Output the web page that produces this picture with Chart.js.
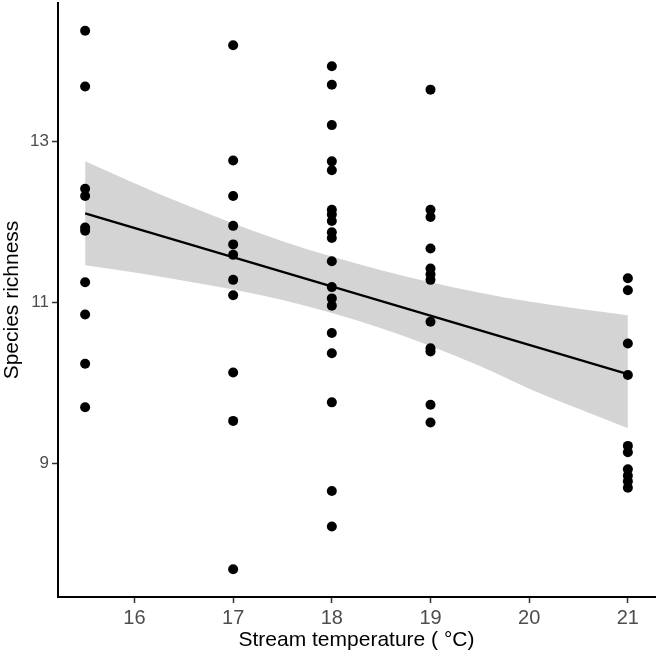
<!DOCTYPE html>
<html>
<head>
<meta charset="utf-8">
<script src="https://cdn.jsdelivr.net/npm/chart.js@4"></script>
<style>
  html, body { margin: 0; padding: 0; background: #ffffff; }
  #wrap { width: 661px; height: 656px; }
</style>
</head>
<body>
<div id="wrap"><canvas id="richnessChart" width="661" height="656"></canvas></div>
<script>
// species richness per site, grouped by stream temperature
const temp15_5 = [14.37, 13.68, 12.41, 12.32, 11.93, 11.89, 11.25, 10.85, 10.24, 9.70];
const temp17 = [14.19, 12.76, 12.32, 11.95, 11.72, 11.59, 11.28, 11.09, 10.13, 9.53, 7.69];
const temp18 = [13.93, 13.70, 13.20, 12.75, 12.64, 12.15, 12.09, 12.01, 11.87, 11.80, 11.51, 11.19, 11.05, 10.96, 10.62, 10.37, 9.76, 8.66, 8.22];
const temp19 = [13.64, 12.15, 12.06, 11.67, 11.42, 11.35, 11.28, 10.76, 10.43, 10.39, 9.73, 9.51];
const temp21 = [11.30, 11.15, 10.49, 10.10, 9.22, 9.14, 8.93, 8.85, 8.78, 8.70];

const temperatures = [15.5, 17, 18, 19, 21];
const richnessByTemp = [temp15_5, temp17, temp18, temp19, temp21];

// fitted line and its confidence band
const fitX = [15.5, 21];
const fitY = [12.105, 10.11];
const bandX = [15.5, 16, 16.5, 17, 17.5, 18, 18.5, 19, 19.5, 20, 20.5, 21];
const bandUpper = [12.75, 12.48, 12.22, 11.98, 11.76, 11.57, 11.40, 11.25, 11.12, 11.01, 10.92, 10.84];
const bandLower = [11.46, 11.37, 11.27, 11.16, 11.03, 10.87, 10.68, 10.46, 10.21, 9.93, 9.68, 9.44];

const xTicks = [16, 17, 18, 19, 20, 21];
const yTicks = [9, 11, 13];

const points = [];
temperatures.forEach((t, i) => {
    richnessByTemp[i].forEach(v => points.push({x: t, y: v}));
});

const toXY = (xs, ys) => xs.map((x, i) => ({x: x, y: ys[i]}));

const fontFamily = "'Liberation Sans', Arial, Helvetica, sans-serif";

const ctx = document.getElementById('richnessChart').getContext('2d');
new Chart(ctx, {
    type: 'scatter',
    data: {
        datasets: [{
            label: 'sites',
            data: points,
            backgroundColor: '#000000',
            borderWidth: 0,
            pointRadius: 5,
            order: 0
        }, {
            type: 'line',
            label: 'fit',
            data: toXY(fitX, fitY),
            borderColor: '#000000',
            borderWidth: 2.2,
            pointRadius: 0,
            fill: false,
            order: 1
        }, {
            type: 'line',
            label: 'lower',
            data: toXY(bandX, bandLower),
            borderWidth: 0,
            borderColor: 'rgba(0,0,0,0)',
            pointRadius: 0,
            cubicInterpolationMode: 'monotone',
            fill: false,
            order: 3
        }, {
            type: 'line',
            label: 'upper',
            data: toXY(bandX, bandUpper),
            borderWidth: 0,
            borderColor: 'rgba(0,0,0,0)',
            backgroundColor: '#d4d4d4',
            pointRadius: 0,
            cubicInterpolationMode: 'monotone',
            fill: '-1',
            order: 2
        }]
    },
    options: {
        responsive: false,
        animation: false,
        layout: { autoPadding: false, padding: { top: 3, right: 6, left: 0, bottom: 0 } },
        plugins: {
            legend: { display: false },
            tooltip: { enabled: false }
        },
        scales: {
            x: {
                type: 'linear',
                min: 15.225,
                max: 21.275,
                afterBuildTicks: scale => { scale.ticks = xTicks.map(v => ({value: v})); },
                afterFit: scale => { scale.height = 59; },
                ticks: {
                    color: '#4d4d4d',
                    padding: 3,
                    font: { family: fontFamily, size: 20 }
                },
                grid: {
                    drawOnChartArea: false,
                    drawTicks: true,
                    tickLength: 6,
                    tickColor: '#333333',
                    tickWidth: 1.5
                },
                border: { display: true, color: '#000000', width: 2 },
                title: {
                    display: true,
                    text: 'Stream temperature ( °C)',
                    color: '#000000',
                    padding: { top: 0, bottom: 3 },
                    font: { family: fontFamily, size: 21 }
                }
            },
            y: {
                type: 'linear',
                min: 7.345,
                max: 14.715,
                afterBuildTicks: scale => { scale.ticks = yTicks.map(v => ({value: v})); },
                afterFit: scale => {
                    scale.width = 58;
                    // the extreme ticks sit well inside the axis, so no label overhang is needed
                    scale.paddingTop = 0;
                    scale.paddingBottom = 0;
                },
                ticks: {
                    color: '#4d4d4d',
                    padding: 3,
                    font: { family: fontFamily, size: 17 }
                },
                grid: {
                    drawOnChartArea: false,
                    drawTicks: true,
                    tickLength: 6,
                    tickColor: '#333333',
                    tickWidth: 1.5
                },
                border: { display: true, color: '#000000', width: 2 },
                title: {
                    display: true,
                    text: 'Species richness',
                    color: '#000000',
                    padding: { top: 0, bottom: 0 },
                    font: { family: fontFamily, size: 21 }
                }
            }
        }
    }
});
</script>
</body>
</html>
